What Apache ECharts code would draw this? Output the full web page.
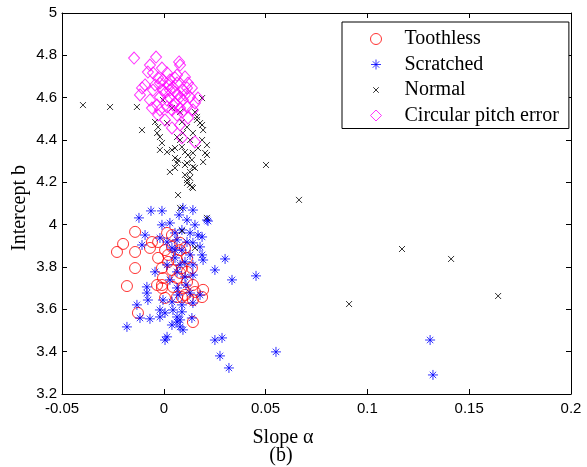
<!DOCTYPE html>
<html>
<head>
<meta charset="utf-8">
<script src="https://cdn.jsdelivr.net/npm/echarts@6/dist/echarts.min.js"></script>
<style>
html,body{margin:0;padding:0;background:#fff;}
#chart{width:587px;height:467px;}
</style>
</head>
<body>
<div id="chart"></div>
<script>
// ---- data ----
const xTickLabels = ['-0.05', '0', '0.05', '0.1', '0.15', '0.2'];
const yTickLabels = ['3.2', '3.4', '3.6', '3.8', '4', '4.2', '4.4', '4.6', '4.8', '5'];
const seriesNames = ['Toothless', 'Scratched', 'Normal', 'Circular pitch error'];

const toothless = [
  [-0.0141,3.966],[-0.0200,3.909],[-0.0230,3.871],[-0.0141,3.871],[-0.0141,3.795],
  [-0.0181,3.710],[-0.0127,3.583],[-0.0058,3.918],[-0.0068,3.890],[-0.0028,3.918],
  [0.0016,3.961],[0.0040,3.951],[0.0006,3.880],[0.0040,3.895],[0.0080,3.914],
  [0.0104,3.890],[-0.0028,3.843],[0.0021,3.824],[0.0065,3.833],[0.0114,3.843],
  [-0.0009,3.795],[0.0040,3.786],[0.0089,3.795],[0.0138,3.795],[-0.0004,3.748],
  [0.0065,3.748],[0.0114,3.729],[-0.0033,3.715],[-0.0009,3.715],[0.0045,3.706],
  [0.0094,3.701],[0.0143,3.715],[0.0193,3.692],[0.0153,3.682],[0.0119,3.654],
  [0.0188,3.658],[0.0006,3.654],[0.0065,3.658],[0.0143,3.540],[0.0089,3.658],
  [0.0080,3.880],[0.0021,3.857],[0.0114,3.777],[0.0080,3.772],[-0.0009,3.701],
  [0.0104,3.668],[0.0143,3.644]
];

const scratched = [
  [-0.0122,4.032],[-0.0063,4.065],[-0.0009,4.065],[0.0075,4.046],[0.0143,4.069],
  [0.0114,4.022],[0.0212,4.022],[-0.0009,3.999],[0.0030,4.008],[0.0089,3.975],
  [0.0129,3.961],[0.0168,3.951],[-0.0092,3.951],[-0.0107,3.904],[-0.0019,3.937],
  [0.0016,3.918],[0.0065,3.928],[0.0114,3.918],[0.0143,3.914],[0.0178,3.895],
  [0.0040,3.890],[0.0089,3.880],[0.0129,3.857],[0.0188,3.857],[0.0193,3.833],
  [0.0301,3.838],[0.0251,3.786],[0.0335,3.739],[0.0055,3.843],[0.0104,3.824],
  [0.0143,3.810],[0.0016,3.810],[-0.0043,3.777],[0.0065,3.777],[0.0104,3.753],
  [0.0143,3.762],[-0.0083,3.706],[-0.0083,3.677],[0.0065,3.701],[0.0129,3.677],
  [0.0178,3.668],[-0.0078,3.644],[-0.0004,3.644],[0.0040,3.635],[-0.0132,3.621],
  [0.0089,3.621],[0.0143,3.630],[-0.0019,3.597],[0.0045,3.597],[0.0089,3.588],
  [-0.0117,3.559],[-0.0068,3.555],[-0.0019,3.564],[0.0065,3.564],[0.0080,3.550],
  [0.0040,3.526],[0.0080,3.517],[-0.0181,3.517],[0.0016,3.470],[0.0251,3.455],
  [0.0286,3.465],[0.0006,3.583],[0.0094,3.503],[0.0138,3.559],[0.0006,3.455],
  [0.0217,4.017],[0.0188,3.942],[0.0453,3.758],[0.0276,3.380],[0.0320,3.323],
  [0.0551,3.399],[0.1308,3.455],[0.1322,3.290],[0.0055,3.880],[0.0080,3.810],
  [0.0030,3.739],[0.0109,3.715],[0.0070,3.668],[0.0055,3.961],[0.0153,3.999],
  [0.0094,4.079],[0.0065,3.540]
];

const normal = [
  [-0.0264,4.556],[-0.0397,4.565],[-0.0132,4.556],[-0.0107,4.447],[-0.0004,4.589],
  [0.0188,4.598],[0.0040,4.551],[0.0080,4.532],[0.0153,4.532],[0.0163,4.509],
  [-0.0043,4.485],[-0.0028,4.461],[0.0016,4.480],[0.0089,4.485],[0.0114,4.461],
  [0.0188,4.471],[0.0193,4.447],[-0.0019,4.414],[-0.0009,4.386],[-0.0019,4.353],
  [0.0040,4.353],[0.0055,4.362],[0.0089,4.367],[0.0104,4.343],[0.0119,4.329],
  [0.0143,4.339],[0.0168,4.362],[0.0212,4.329],[0.0212,4.376],[0.0055,4.315],
  [0.0065,4.291],[0.0114,4.291],[0.0138,4.306],[0.0153,4.268],[0.0129,4.249],
  [0.0030,4.249],[0.0055,4.268],[0.0104,4.235],[0.0129,4.221],[0.0114,4.197],
  [0.0138,4.178],[0.0070,4.140],[0.0016,4.343],[0.0080,4.400],[0.0129,4.400],
  [0.0188,4.400],[0.0094,4.433],[0.0143,4.433],[0.0065,4.414],[0.0163,4.495],
  [0.0178,4.480],[0.0193,4.296],[0.0104,4.282],[0.0143,4.273],[0.0114,4.211],
  [0.0129,4.188],[0.0143,4.173],[0.0080,4.079],[0.0212,4.032],[0.0089,3.970],
  [0.0153,3.890],[0.0502,4.282],[0.0664,4.117],[0.1170,3.885],[0.1411,3.838],
  [0.0910,3.625],[0.1642,3.663],[-0.0033,4.433],[0.0203,4.339],[0.0070,4.306]
];

const circularPitch = [
  [-0.0146,4.787],[-0.0038,4.792],[0.0075,4.769],[0.0080,4.754],[-0.0068,4.754],
  [-0.0078,4.721],[-0.0009,4.740],[-0.0053,4.717],[0.0016,4.717],[0.0065,4.707],
  [0.0104,4.698],[-0.0028,4.693],[0.0030,4.684],[0.0119,4.669],[-0.0107,4.646],
  [-0.0092,4.660],[-0.0053,4.636],[-0.0004,4.636],[0.0045,4.650],[0.0094,4.636],
  [0.0138,4.646],[-0.0068,4.589],[-0.0019,4.603],[0.0030,4.598],[0.0080,4.603],
  [0.0129,4.603],[0.0168,4.598],[-0.0058,4.551],[0.0016,4.556],[0.0055,4.575],
  [0.0114,4.556],[-0.0028,4.518],[0.0065,4.518],[0.0040,4.457],[0.0080,4.471],
  [0.0089,4.410],[0.0153,4.391],[-0.0117,4.613],[-0.0019,4.669],[0.0021,4.660],
  [0.0065,4.669],[0.0006,4.622],[0.0055,4.627],[0.0104,4.613],[-0.0033,4.565],
  [0.0040,4.542],[0.0089,4.532],[0.0143,4.542],[0.0006,4.495],[0.0119,4.504],
  [0.0030,4.636],[0.0070,4.613],[0.0016,4.589],[0.0094,4.589],[0.0045,4.565],
  [0.0080,4.551],[-0.0004,4.684],[-0.0043,4.660],[0.0114,4.646],[0.0055,4.693],
  [-0.0019,4.542],[0.0153,4.575]
];

// ---- chart ----
const X_MIN = -0.05, X_MAX = 0.2, X_STEP = 0.05;
const Y_MIN = 3.2, Y_MAX = 5, Y_STEP = 0.2;

const starPath = 'path://M5,0L5,10M0,5L10,5M1.8,1.8L8.2,8.2M1.8,8.2L8.2,1.8';
const crossPath = 'path://M0,0L10,10M0,10L10,0';
const crossLegendPath = 'path://M0,0M12,12M3,3L9,9M3,9L9,3';
const starLegendPath = 'path://M0,0M11,11M5.5,0.5L5.5,10.5M0.5,5.5L10.5,5.5M2.3,2.3L8.7,8.7M2.3,8.7L8.7,2.3';

const tickFont = {fontFamily: '"Liberation Sans", Arial, sans-serif', fontSize: 15, color: '#000'};
const serif = '"Liberation Serif", "Times New Roman", serif';

function axisCommon(isX, pos, showLabel) {
  const min = isX ? X_MIN : Y_MIN, step = isX ? X_STEP : Y_STEP;
  const labels = isX ? xTickLabels : yTickLabels;
  return {
    type: 'value', position: pos,
    min: min, max: isX ? X_MAX : Y_MAX, interval: step,
    axisLine: {show: true, onZero: false, lineStyle: {color: '#000', width: 1}},
    axisTick: {show: true, inside: true, length: 5, lineStyle: {color: '#000', width: 1}},
    splitLine: {show: false},
    axisLabel: Object.assign({
      show: showLabel, margin: isX ? 7 : 5,
      formatter: v => labels[Math.round((v - min) / step)]
    }, tickFont)
  };
}

const transparent = 'rgba(0,0,0,0)';
const chart = echarts.init(document.getElementById('chart'), null, {renderer: 'canvas'});
chart.setOption({
  animation: false,
  backgroundColor: '#fff',
  grid: {left: 62, right: 16, top: 13, bottom: 73, containLabel: false},
  xAxis: [axisCommon(true, 'bottom', true), axisCommon(true, 'top', false)],
  yAxis: [axisCommon(false, 'left', true), axisCommon(false, 'right', false)],
  legend: {
    orient: 'vertical', left: 342, top: 22,
    padding: [7, 10, 3, 28],
    itemGap: 5.5, itemWidth: 11, itemHeight: 11,
    backgroundColor: '#fff', borderColor: '#000', borderWidth: 1,
    textStyle: {fontFamily: serif, fontSize: 20, lineHeight: 20, color: '#000', padding: [0, 0, 0, 18]},
    data: [
      {name: seriesNames[0], icon: 'circle', itemStyle: {color: transparent, borderColor: '#ff0000', borderWidth: 1}},
      {name: seriesNames[1], icon: starLegendPath, itemStyle: {color: transparent, borderColor: '#0000ff', borderWidth: 1}},
      {name: seriesNames[2], icon: crossLegendPath, itemStyle: {color: transparent, borderColor: '#000', borderWidth: 1}},
      {name: seriesNames[3], icon: 'diamond', itemStyle: {color: transparent, borderColor: '#ff00ff', borderWidth: 1}}
    ]
  },
  series: [
    {name: seriesNames[0], type: 'scatter', data: toothless, symbol: 'circle', symbolSize: 11,
     itemStyle: {color: transparent, borderColor: '#ff0000', borderWidth: 1}},
    {name: seriesNames[1], type: 'scatter', data: scratched, symbol: starPath, symbolSize: 10,
     itemStyle: {color: transparent, borderColor: '#0000ff', borderWidth: 1}},
    {name: seriesNames[2], type: 'scatter', data: normal, symbol: crossPath, symbolSize: 6,
     itemStyle: {color: transparent, borderColor: '#000', borderWidth: 1}},
    {name: seriesNames[3], type: 'scatter', data: circularPitch, symbol: 'diamond', symbolSize: [11, 12],
     itemStyle: {color: transparent, borderColor: '#ff00ff', borderWidth: 1}}
  ],
  graphic: [
    {type: 'text', x: 283, y: 438, style: {text: 'Slope α', font: '20px ' + serif, fill: '#000', textAlign: 'center', textVerticalAlign: 'middle'}},
    {type: 'text', x: 281, y: 456, style: {text: '(b)', font: '20px ' + serif, fill: '#000', textAlign: 'center', textVerticalAlign: 'middle'}},
    {type: 'text', x: 20, y: 208, rotation: Math.PI / 2, style: {text: 'Intercept b', font: '20px ' + serif, fill: '#000', textAlign: 'center', textVerticalAlign: 'middle'}}
  ]
});
</script>
</body>
</html>
